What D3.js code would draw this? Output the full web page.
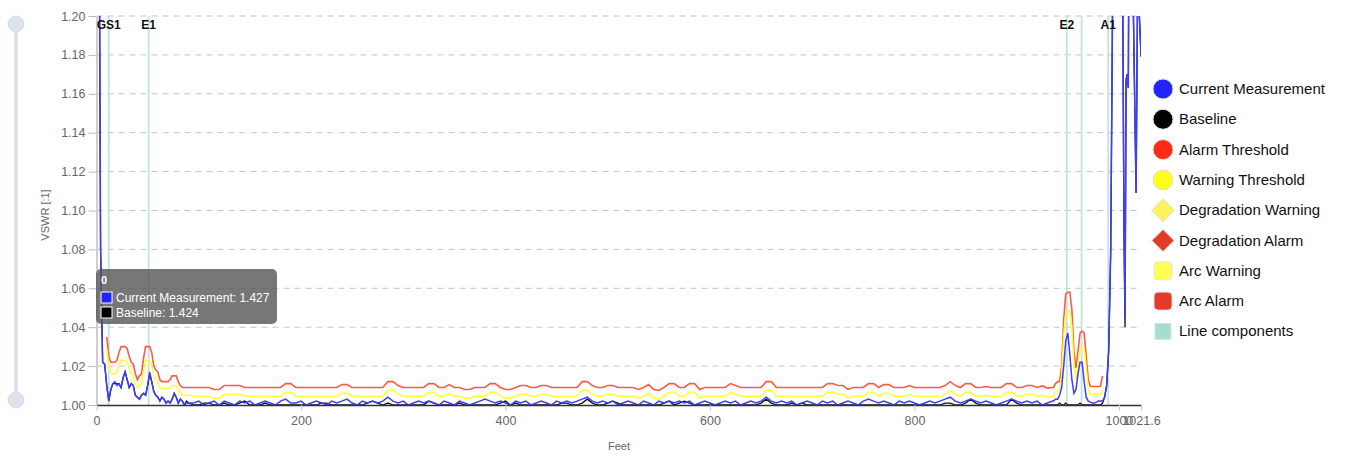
<!DOCTYPE html>
<html>
<head>
<meta charset="utf-8">
<script src="https://cdn.jsdelivr.net/npm/d3@7"></script>
<style>
  body { margin: 0; background: #fff; font-family: "Liberation Sans", Arial, sans-serif; }
  .axis text { fill: #666; font-size: 12.5px; font-family: "Liberation Sans", Arial, sans-serif; }
</style>
</head>
<body>
<svg id="chart" width="1346" height="456"></svg>
<script>
// ---- data (feet / VSWR) ----
var nearFeet = [0,2,4,6,8,10,12,14,16,18,20,22,24,26,28,30,32,34,36,38,40,42,44,46,48,50,52,54,56,58,60,62,64,66,68,70,72,74,76,78,80,82,84,86,88,90];
var nearCurrent = [1.427,1.330,1.080,1.022,1.021,1.010,1.002,1.008,1.011,1.012,1.010,1.011,1.009,1.014,1.017,1.013,1.009,1.011,1.010,1.005,1.004,1.003,1.005,1.006,1.005,1.010,1.017,1.012,1.007,1.005,1.004,1.002,1.004,1.003,1.001,1.002,1.001,1.003,1.006,1.004,1.001,1.003,1.002,1.000,1.001,1.001];
var nearBaseline = [1.424,1.330,1.080,1.022,1.021,1.010,1.002,1.008,1.011,1.011,1.011,1.011,1.009,1.014,1.017,1.013,1.009,1.011,1.010,1.005,1.004,1.003,1.005,1.006,1.005,1.010,1.016,1.012,1.007,1.005,1.004,1.002,1.004,1.003,1.001,1.002,1.001,1.003,1.006,1.004,1.001,1.003,1.002,1.000,1.002,1.001];
var nearAlarm = [null,null,null,null,null,1.035,1.025,1.022,1.022,1.022,1.023,1.027,1.030,1.030,1.030,1.029,1.025,1.022,1.021,1.016,1.013,1.015,1.016,1.024,1.030,1.030,1.030,1.027,1.020,1.018,1.017,1.013,1.012,1.012,1.012,1.012,1.013,1.015,1.015,1.015,1.012,1.010,1.009,1.009,1.009,1.009];
var nearWarning = [null,null,null,null,null,1.029,1.020,1.017,1.016,1.016,1.017,1.020,1.023,1.023,1.023,1.022,1.019,1.016,1.015,1.011,1.009,1.010,1.011,1.017,1.023,1.023,1.023,1.020,1.015,1.013,1.012,1.009,1.0085,1.0085,1.0085,1.0085,1.009,1.010,1.010,1.010,1.008,1.006,1.005,1.005,1.005,1.005];

var midFeet = [95,100,105,110,115,120,125,130,135,140,
  145,150,155,160,165,170,175,180,185,190,
  195,200,205,210,215,220,225,230,235,240,
  245,250,255,260,265,270,275,280,285,290,
  295,300,305,310,315,320,325,330,335,340,
  345,350,355,360,365,370,375,380,385,390,
  395,400,405,410,415,420,425,430,435,440,
  445,450,455,460,465,470,475,480,485,490,
  495,500,505,510,515,520,525,530,535,540,
  545,550,555,560,565,570,575,580,585,590,
  595,600,605,610,615,620,625,630,635,640,
  645,650,655,660,665,670,675,680,685,690,
  695,700,705,710,715,720,725,730,735,740,
  745,750,755,760,765,770,775,780,785,790,
  795,800,805,810,815,820,825,830,835,840,
  845,850,855,860,865,870,875,880,885,890,
  895,900,905,910,915,920,925,930,935];
var midCurrent = [1.001,1.002,1.000,1.001,1.002,1.000,1.002,1.001,1.000,1.002,
  1.001,1.002,1.000,1.001,1.002,1.001,1.000,1.002,1.003,1.001,
  1.001,1.002,1.000,1.001,1.002,1.001,1.000,1.002,1.001,1.002,
  1.003,1.001,1.000,1.002,1.001,1.002,1.001,1.002,1.004,1.002,
  1.001,1.002,1.000,1.001,1.002,1.001,1.002,1.001,1.000,1.002,
  1.001,1.000,1.002,1.001,1.000,1.001,1.002,1.003,1.002,1.001,
  1.002,1.001,1.000,1.002,1.001,1.002,1.000,1.001,1.002,1.001,
  1.000,1.002,1.001,1.002,1.001,1.002,1.003,1.004,1.002,1.001,
  1.002,1.001,1.002,1.000,1.001,1.002,1.001,1.000,1.002,1.001,
  1.000,1.002,1.001,1.002,1.001,1.002,1.001,1.002,1.000,1.001,
  1.002,1.001,1.000,1.001,1.002,1.001,1.002,1.000,1.001,1.002,
  1.001,1.002,1.004,1.002,1.001,1.002,1.001,1.002,1.000,1.001,
  1.002,1.001,1.000,1.002,1.001,1.002,1.000,1.001,1.002,1.001,
  1.000,1.002,1.003,1.002,1.001,1.002,1.001,1.000,1.002,1.001,
  1.002,1.001,1.000,1.001,1.002,1.001,1.002,1.003,1.004,1.002,
  1.001,1.002,1.003,1.002,1.001,1.002,1.001,1.000,1.001,1.002,
  1.003,1.002,1.001,1.002,1.001,1.002,1.000,1.001,1.002];
var midBaseline = [1.000,1.000,1.001,1.001,1.000,1.000,1.001,1.000,1.000,1.001,
  1.002,1.000,1.000,1.000,1.001,1.000,1.000,1.000,1.000,1.000,
  1.000,1.000,1.000,1.000,1.000,1.001,1.001,1.000,1.000,1.000,
  1.000,1.000,1.000,1.000,1.001,1.002,1.001,1.000,1.001,1.000,
  1.000,1.000,1.000,1.000,1.000,1.000,1.002,1.001,1.000,1.000,
  1.000,1.000,1.001,1.000,1.000,1.000,1.000,1.000,1.000,1.000,
  1.001,1.002,1.000,1.001,1.000,1.000,1.000,1.000,1.000,1.000,
  1.000,1.000,1.001,1.001,1.000,1.000,1.001,1.003,1.001,1.000,
  1.000,1.001,1.002,1.001,1.000,1.000,1.000,1.000,1.000,1.000,
  1.000,1.000,1.001,1.002,1.000,1.001,1.002,1.001,1.000,1.000,
  1.000,1.000,1.000,1.000,1.000,1.000,1.000,1.000,1.000,1.000,
  1.000,1.001,1.003,1.001,1.000,1.000,1.000,1.001,1.000,1.001,
  1.000,1.000,1.000,1.000,1.000,1.000,1.000,1.000,1.000,1.000,
  1.000,1.000,1.000,1.000,1.000,1.000,1.000,1.000,1.000,1.000,
  1.000,1.000,1.000,1.000,1.000,1.000,1.000,1.001,1.001,1.000,
  1.000,1.001,1.003,1.001,1.000,1.000,1.000,1.000,1.000,1.000,
  1.003,1.001,1.000,1.000,1.000,1.000,1.000,1.000,1.000];
var midAlarm = [1.009,1.009,1.009,1.009,1.008,1.008,1.010,1.010,1.010,1.010,
  1.009,1.009,1.009,1.009,1.009,1.009,1.009,1.009,1.011,1.011,
  1.009,1.009,1.009,1.009,1.009,1.009,1.009,1.009,1.009,1.0105,
  1.0105,1.009,1.009,1.009,1.009,1.009,1.009,1.009,1.012,1.012,
  1.010,1.009,1.009,1.009,1.009,1.009,1.011,1.011,1.009,1.009,
  1.0105,1.009,1.009,1.008,1.008,1.009,1.009,1.009,1.011,1.011,
  1.009,1.008,1.008,1.009,1.010,1.010,1.009,1.009,1.010,1.010,
  1.009,1.009,1.009,1.009,1.009,1.009,1.012,1.012,1.010,1.009,
  1.009,1.010,1.010,1.009,1.009,1.009,1.009,1.008,1.009,1.0105,
  1.008,1.0075,1.009,1.011,1.011,1.009,1.009,1.011,1.011,1.008,
  1.009,1.009,1.009,1.009,1.009,1.011,1.010,1.009,1.009,1.009,
  1.009,1.009,1.012,1.012,1.009,1.009,1.009,1.009,1.009,1.009,
  1.009,1.009,1.009,1.009,1.011,1.011,1.010,1.010,1.008,1.009,
  1.009,1.009,1.011,1.011,1.009,1.0105,1.0105,1.009,1.009,1.009,
  1.010,1.009,1.009,1.009,1.009,1.009,1.009,1.010,1.012,1.010,
  1.009,1.011,1.011,1.009,1.009,1.0095,1.009,1.009,1.009,1.011,
  1.011,1.009,1.009,1.010,1.010,1.009,1.0098,1.0087,1.009];
var midWarning = [1.0045,1.0045,1.0045,1.0045,1.0035,1.0035,1.0055,1.0055,1.0055,1.0055,
  1.0045,1.0045,1.0045,1.0045,1.0045,1.0045,1.0045,1.0045,1.0065,1.0065,
  1.0045,1.0045,1.0045,1.0045,1.0045,1.0045,1.0045,1.0045,1.0045,1.006,
  1.006,1.0045,1.0045,1.0045,1.0045,1.0045,1.0045,1.0045,1.0075,1.0075,
  1.0055,1.0045,1.0045,1.0045,1.0045,1.0045,1.0065,1.0065,1.0045,1.0045,
  1.006,1.0045,1.0045,1.0035,1.0035,1.0045,1.0045,1.0045,1.0065,1.0065,
  1.0045,1.0035,1.0035,1.0045,1.0055,1.0055,1.0045,1.0045,1.0055,1.0055,
  1.0045,1.0045,1.0045,1.0045,1.0045,1.0045,1.0075,1.0075,1.0055,1.0045,
  1.0045,1.0055,1.0055,1.0045,1.0045,1.0045,1.0045,1.0035,1.0045,1.006,
  1.0035,1.003,1.0045,1.0065,1.0065,1.0045,1.0045,1.0065,1.0065,1.0035,
  1.0045,1.0045,1.0045,1.0045,1.0045,1.0065,1.0055,1.0045,1.0045,1.0045,
  1.0045,1.0045,1.0075,1.0075,1.0045,1.0045,1.0045,1.0045,1.0045,1.0045,
  1.0045,1.0045,1.0045,1.0045,1.0065,1.0065,1.0055,1.0055,1.0035,1.0045,
  1.0045,1.0045,1.0065,1.0065,1.0045,1.006,1.006,1.0045,1.0045,1.0045,
  1.0055,1.0045,1.0045,1.0045,1.0045,1.0045,1.0045,1.0055,1.0075,1.0055,
  1.0045,1.0065,1.0065,1.0045,1.0045,1.005,1.0045,1.0045,1.0045,1.0065,
  1.0065,1.0045,1.0045,1.0055,1.0055,1.0045,1.005,1.004,1.0045];

var farFeet = [936,938,940,942,944,946,948,950,952,954,956,958,960,962,964,966,968,970,972,974,976,978,980,982,984,986,988,990];
var farCurrent = [1.002,1.003,1.003,1.005,1.009,1.020,1.033,1.037,1.026,1.013,1.006,1.008,1.016,1.022,1.022,1.012,1.004,1.002,1.0015,1.001,1.001,1.0015,1.002,1.002,1.002,1.004,1.010,1.028];
var farBaseline = [1.000,1.000,1.000,1.001,1.000,1.000,1.001,1.000,1.000,1.000,1.000,1.000,1.000,1.001,1.000,1.000,1.000,1.000,1.000,1.000,1.000,1.000,1.000,1.000,1.001,1.004,1.010,1.028];
var farAlarm = [1.009,1.011,1.012,1.012,1.020,1.044,1.057,1.058,1.058,1.049,1.027,1.019,1.028,1.037,1.038,1.037,1.025,1.013,1.0095,1.0095,1.0095,1.0095,1.0095,1.0097,1.015,null,null,null];
var farWarning = [1.0045,1.006,1.007,1.008,1.015,1.036,1.047,1.048,1.048,1.040,1.020,1.013,1.021,1.029,1.030,1.029,1.019,1.008,1.0055,1.0055,1.0055,1.0055,1.0055,1.0055,1.008,null,null,null];

var tailFeet = [992,994,996,998,1000,1002,1003.5,1005,1006,1007,1008,1009.2,1010.2,1011.5,1013,1014.2,1016.8,1018.5,1019.2,1020,1021.6];
var tailCurrent = [1.080,1.220,1.360,1.440,1.480,1.400,1.230,1.090,1.045,1.167,1.170,1.163,1.300,1.380,1.300,1.200,1.109,1.230,1.260,1.200,1.181];
var tailBaseline = [1.080,1.220,1.360,1.440,1.480,1.400,1.230,1.085,1.040,1.167,1.170,1.163,1.300,1.380,1.300,1.200,1.109,1.230,1.260,1.200,1.179];

var componentNames = ["GS1", "E1", "E2", "", "A1"];
var componentFeet = [12, 51, 949, 963.5, 989.5];

var yTicks = [1.00,1.02,1.04,1.06,1.08,1.10,1.12,1.14,1.16,1.18,1.20];
var xTicks = [0,200,400,600,800,1000,1021.6];

var legendNames = ["Current Measurement","Baseline","Alarm Threshold","Warning Threshold","Degradation Warning","Degradation Alarm","Arc Warning","Arc Alarm","Line components"];
var legendColors = ["#2323ff","#000000","#ff2b14","#ffff1c","#fff15a","#e33b2b","#ffff55","#e5392b","#a6ddcf"];
var legendShapes = ["circle","circle","circle","circle","diamond","diamond","round","round","square"];

var tooltipTitle = "0";
var tooltipRows = [["Current Measurement", 1.427, "#2323ff"], ["Baseline", 1.424, "#000000"]];

// ---- build ----
function toPoints(feet, vals) {
  return feet.map(function(f, i) { return {ft: f, v: vals[i]}; });
}
var tailNone = tailFeet.map(function() { return null; });
var allFeet = nearFeet.concat(midFeet, farFeet, tailFeet);
var currentPts = toPoints(allFeet, nearCurrent.concat(midCurrent, farCurrent, tailCurrent));
var baselinePts = toPoints(allFeet, nearBaseline.concat(midBaseline, farBaseline, tailBaseline));
var alarmPts = toPoints(allFeet, nearAlarm.concat(midAlarm, farAlarm, tailNone));
var warningPts = toPoints(allFeet, nearWarning.concat(midWarning, farWarning, tailNone));

var svg = d3.select("#chart");
var margin = {top: 16, left: 96.5, right: 205, bottom: 51};
var W = 1346 - margin.left - margin.right, H = 456 - margin.top - margin.bottom;

var x = d3.scaleLinear().domain([0, 1021.6]).range([0, W]);
var y = d3.scaleLinear().domain([1.00, 1.20]).range([H, 0]);

// range slider at left
var slider = svg.append("g").attr("class", "slider");
slider.append("line").attr("x1", 16).attr("x2", 16).attr("y1", 24).attr("y2", 400)
  .attr("stroke", "#dde2ec").attr("stroke-width", 4);
slider.selectAll("circle").data([24, 400]).enter().append("circle")
  .attr("cx", 16).attr("cy", function(d) { return d; }).attr("r", 8.5).attr("fill", "#dde2ec");

var g = svg.append("g").attr("transform", "translate(" + margin.left + "," + margin.top + ")");

g.append("defs").append("clipPath").attr("id", "plotclip")
  .append("rect").attr("x", 0).attr("y", 0).attr("width", W).attr("height", H);

// grid
g.append("g").selectAll("line").data(yTicks.slice(1)).enter().append("line")
  .attr("x1", 0).attr("x2", W)
  .attr("y1", function(d) { return y(d); }).attr("y2", function(d) { return y(d); })
  .attr("stroke", "#c4c4c4").attr("stroke-dasharray", "6,5");

// y axis
var yAxis = g.append("g").attr("class", "axis")
  .call(d3.axisLeft(y).tickValues(yTicks).tickFormat(d3.format(".2f")).tickSize(8).tickPadding(3).tickSizeOuter(0));
yAxis.select(".domain").attr("stroke", "#cfcfcf").attr("stroke-width", 2);
yAxis.selectAll(".tick line").attr("stroke", "#bbb");

// line components
var comps = g.append("g");
comps.selectAll("line").data(componentFeet).enter().append("line")
  .attr("x1", function(d) { return x(d); }).attr("x2", function(d) { return x(d); })
  .attr("y1", 0).attr("y2", H).attr("stroke", "#bfe6db").attr("stroke-width", 1.8);

var line = d3.line()
  .defined(function(d) { return d.v != null; })
  .x(function(d) { return x(d.ft); })
  .y(function(d) { return y(d.v); });

var plot = g.append("g").attr("clip-path", "url(#plotclip)");
plot.append("path").datum(alarmPts).attr("d", line).attr("fill", "none").attr("stroke", "#ff5a44").attr("stroke-width", 1.6);
plot.append("path").datum(warningPts).attr("d", line).attr("fill", "none").attr("stroke", "#ffff3a").attr("stroke-width", 1.6);
plot.append("path").datum(baselinePts).attr("d", line).attr("fill", "none").attr("stroke", "#111").attr("stroke-width", 1.3);
plot.append("path").datum(currentPts).attr("d", line).attr("fill", "none").attr("stroke", "#3d3dff").attr("stroke-width", 1.5);

// x axis
var xAxis = g.append("g").attr("class", "axis").attr("transform", "translate(0," + H + ")")
  .call(d3.axisBottom(x).tickValues(xTicks).tickFormat(function(d) { return String(d); }).tickSize(6).tickPadding(5).tickSizeOuter(0));
xAxis.select(".domain").attr("stroke", "#333").attr("stroke-width", 1.5);
xAxis.selectAll(".tick line").attr("stroke", "#ccc");

// component labels
g.append("g").selectAll("text").data(componentFeet).enter().append("text")
  .attr("x", function(d) { return x(d); }).attr("y", 13)
  .attr("text-anchor", "middle").attr("font-size", 12).attr("font-weight", "bold").attr("fill", "#111")
  .text(function(d, i) { return componentNames[i]; });

// axis titles
svg.append("text").attr("x", 619).attr("y", 450).attr("text-anchor", "middle")
  .attr("font-size", 11).attr("fill", "#666").text("Feet");
svg.append("text").attr("transform", "translate(49,215) rotate(-90)").attr("text-anchor", "middle")
  .attr("font-size", 11).attr("fill", "#666").text("VSWR [:1]");

// legend
var leg = svg.append("g").attr("transform", "translate(1163,89)");
var items = leg.selectAll("g").data(legendNames).enter().append("g")
  .attr("transform", function(d, i) { return "translate(0," + (i * 30.3) + ")"; });
items.each(function(d, i) {
  var it = d3.select(this), shape = legendShapes[i], col = legendColors[i];
  if (shape === "circle") {
    it.append("circle").attr("r", 10).attr("fill", col).attr("stroke", "#ddd").attr("stroke-width", 1);
  } else if (shape === "diamond") {
    it.append("rect").attr("x", -8).attr("y", -8).attr("width", 16).attr("height", 16)
      .attr("transform", "rotate(45)").attr("fill", col).attr("stroke", "#e6e2c8").attr("stroke-width", 1);
  } else if (shape === "round") {
    it.append("rect").attr("x", -9).attr("y", -9).attr("width", 18).attr("height", 18).attr("rx", 4)
      .attr("fill", col).attr("stroke", "#e4e4e4").attr("stroke-width", 1);
  } else {
    it.append("rect").attr("x", -8).attr("y", -8).attr("width", 16).attr("height", 16)
      .attr("fill", col).attr("stroke", "#cfe8e1").attr("stroke-width", 1);
  }
  it.append("text").attr("x", 16).attr("y", 5).attr("font-size", 15).attr("fill", "#111").text(d);
});

// tooltip
var tip = svg.append("g").attr("transform", "translate(96,269)");
tip.append("rect").attr("width", 181).attr("height", 55).attr("rx", 5).attr("fill", "#555").attr("fill-opacity", 0.8);
tip.append("text").attr("x", 5).attr("y", 15).attr("font-size", 11).attr("font-weight", "bold").attr("fill", "#fff").text(tooltipTitle);
var rows = tip.selectAll("g.row").data(tooltipRows).enter().append("g").attr("class", "row")
  .attr("transform", function(d, i) { return "translate(5," + (23 + i * 15) + ")"; });
rows.append("rect").attr("width", 11).attr("height", 11).attr("fill", function(d) { return d[2]; })
  .attr("stroke", "#fff").attr("stroke-width", 1);
rows.append("text").attr("x", 15).attr("y", 10).attr("font-size", 12).attr("fill", "#fff")
  .text(function(d) { return d[0] + ": " + d[1].toFixed(3); });
</script>
</body>
</html>
